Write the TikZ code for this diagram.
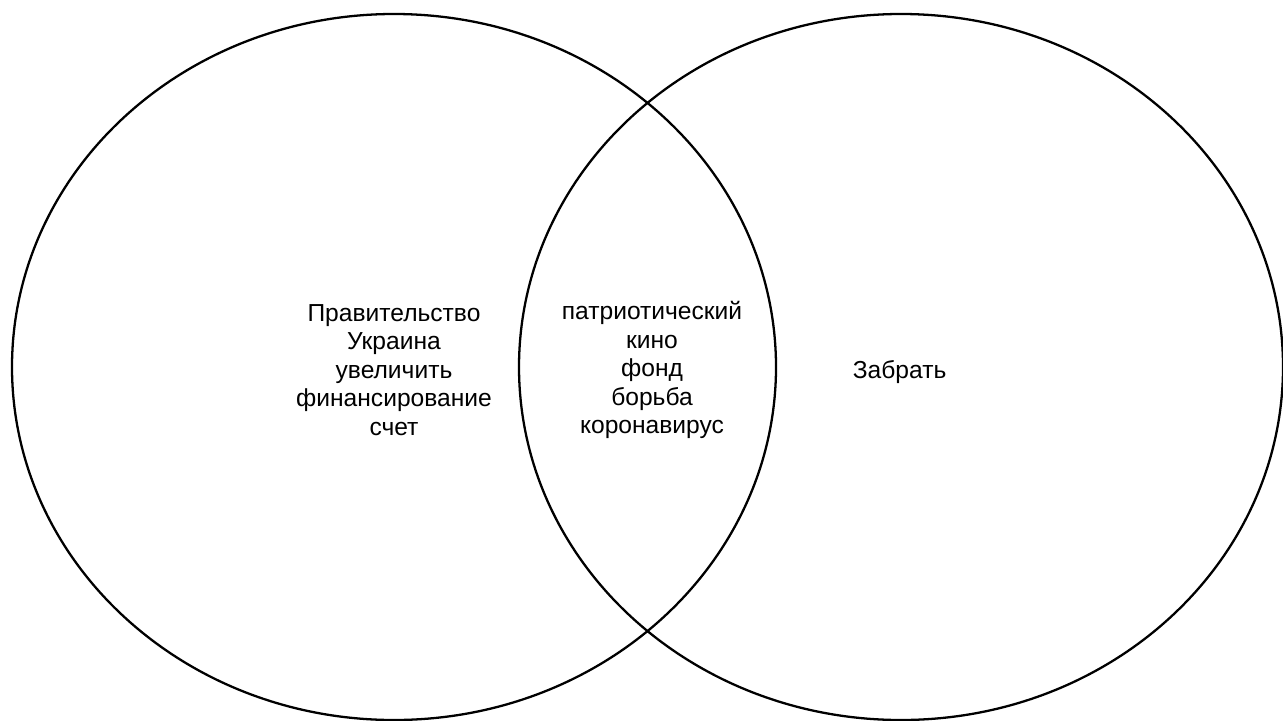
\documentclass[tikz,border=0pt]{standalone}
\usepackage{fontspec}
\setmainfont{Liberation Sans}
\usepackage{tikz}
\usetikzlibrary{shapes.geometric}

\tikzset{
	setring/.style={draw, ellipse, line width=1.3pt, minimum width=764*0.02cm, minimum height=706*0.02cm, inner sep=0pt},
	setlabel/.style={align=center, font=\fontsize{14}{16.2}\selectfont, inner sep=0pt}
}

\begin{document}
\begin{tikzpicture}[x=0.02cm, y=-0.02cm]
	\useasboundingbox (0,0) rectangle (1283,720);
	
	\node[setring] (left) at (394,367) {};
	\node[setring] (right) at (901,367) {};
	
	\foreach \x/\y/\name/\txt in {
		394/370/leftText/{Правительство\\Украина\\увеличить\\финансирование\\счет},
		652/370/midText/{патриотический\\кино\\фонд\\борьба\\коронавирус},
		903/372/rightText/{Забрать}
	}{
		\node[setlabel] (\name) at (\x,\y) {\txt};
	}
\end{tikzpicture}
\end{document}
